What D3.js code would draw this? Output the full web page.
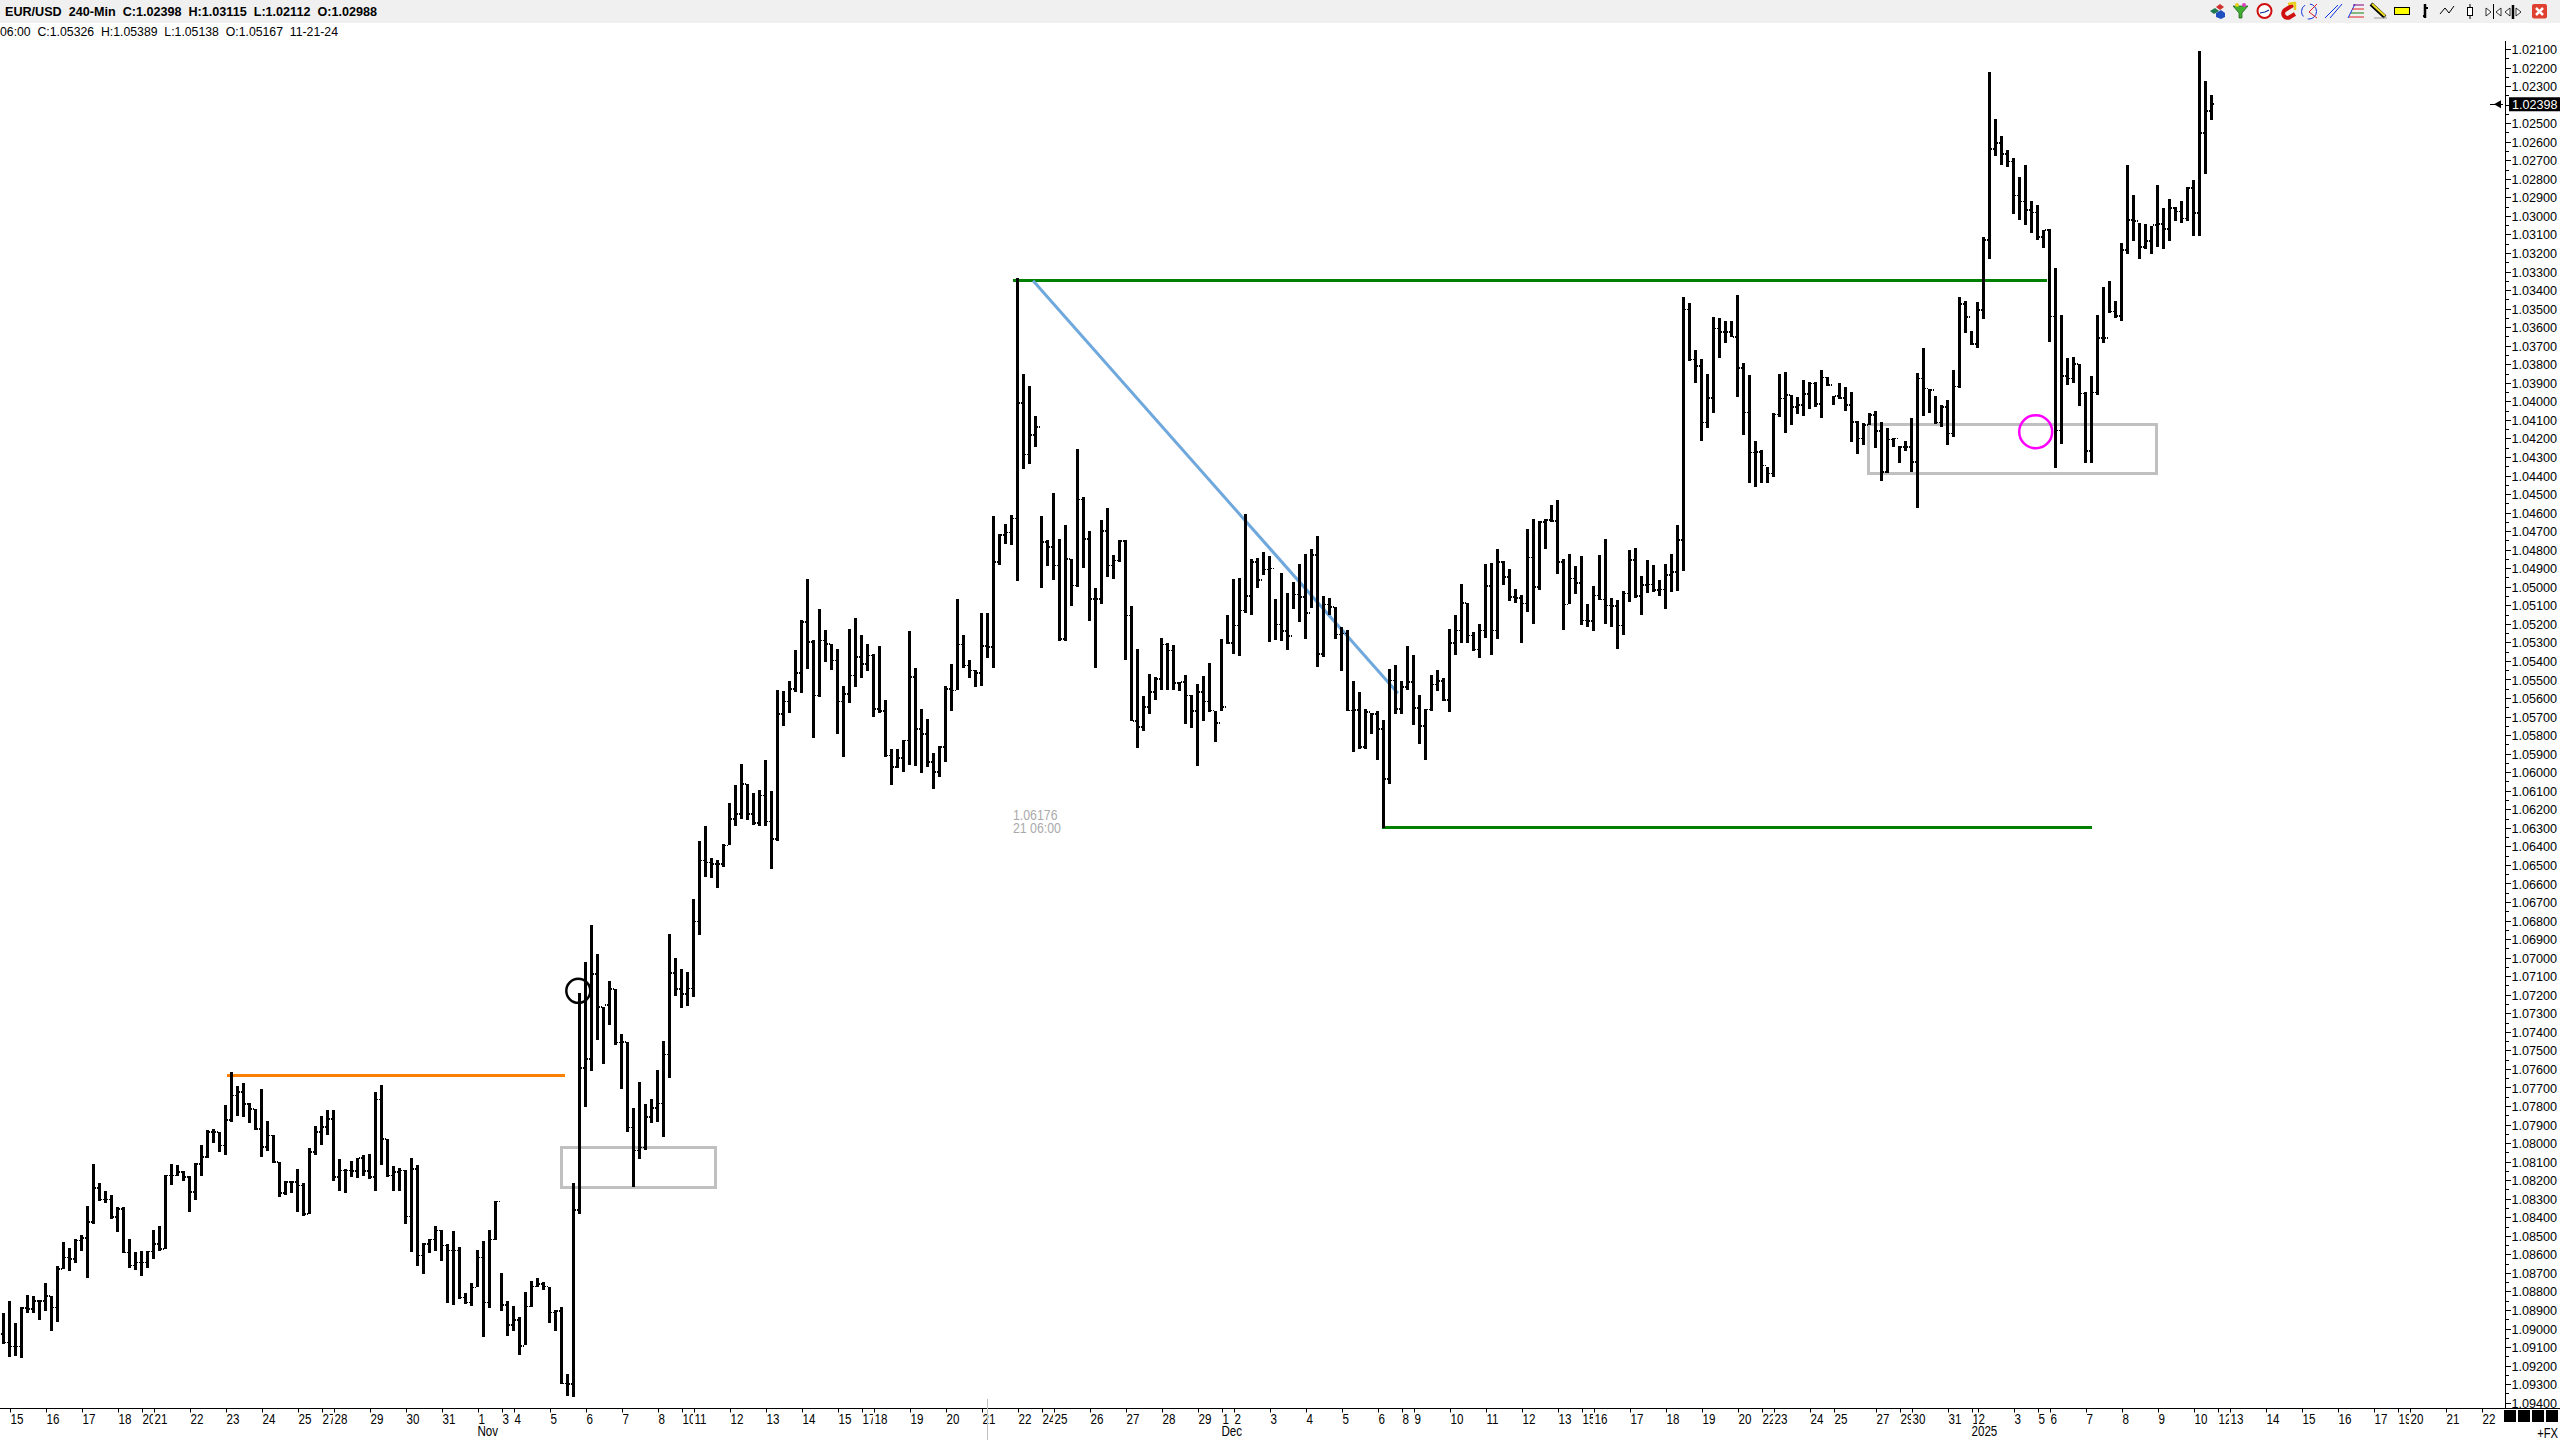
<!DOCTYPE html>
<html>
<head>
<meta charset="utf-8">
<script src="https://cdn.jsdelivr.net/npm/d3@7"></script>
<style>
    body { margin: 0; background: #fff; }
    svg { display: block; }
    text { font-family: "Liberation Sans", Arial, sans-serif; fill: #000; }
    .tick line, .domain { stroke: #000; shape-rendering: crispEdges; }
</style>
</head>
<body>
<svg id="chart" width="2560" height="1440"></svg>
<script>
// all prices in points (1e-5), price scale runs downwards on this chart
const lows = [
108918,108850,108972,108882,108818,108825,108845,108753,108823,108665,
108531,108566,108517,108495,108337,108112,108215,108256,108279,108346,
108342,108517,108589,108580,108580,108467,108445,108170,108112,108116,
108152,108180,108107,108013,107927,107923,107941,107792,107615,107694,
107675,107783,107815,107707,107883,107955,108101,108202,108202,108139,
108215,108026,107910,107856,107824,107819,108085,108139,108099,108080,
108062,108058,107723,107689,107977,108126,108135,108143,108080,108117,
108540,108517,108447,108468,108544,108472,108562,108809,108755,108576,
108526,108468,108314,108701,108850,108877,108936,108801,108746,108728,
108751,108774,108900,108882,109246,108215,107188,107024,106826,106982,
107266,107128,107167,107414,107457,107812,107670,107789,107763,107607,
107448,106870,107000,107061,107080,106686,106369,106288,106463,106473,
106387,106166,106067,105955,106063,106112,106095,105932,106099,105559,
105564,105510,105343,105177,104960,105285,105122,105235,105307,105338,
105537,105230,105167,105262,105307,105361,105321,105609,105874,105874,
105824,105240,105437,105658,105712,105896,105861,105534,105419,105068,
105258,105397,105447,105140,105140,104619,104718,104663,104614,103337,
103850,103918,104080,104617,104746,104493,104741,104665,104849,104255,
104516,104701,105007,104638,104574,104831,104746,104750,105105,105334,
105591,105473,105487,105275,105302,105316,105514,105478,105586,105523,
105483,105411,105671,105280,105150,104960,104951,104605,104848,104843,
104810,104835,105064,104924,105032,104974,104879,104825,104794,104724,
105050,105059,105109,105217,105231,105510,105570,105658,105680,105672,
105716,105442,105424,105509,105321,105366,105582,105658,105474,105451,
105491,105230,105154,104983,105086,105244,105203,104879,104870,104799,
104861,104902,105010,105042,104691,104637,104645,104632,104560,104533,
104848,104821,104889,104835,105095,104997,104830,104745,105059,105073,
105024,104803,104789,104943,104853,104884,104961,104875,104825,104668,
103440,103472,103723,103772,103855,103547,103553,103567,103567,103427,
103795,103860,104216,104263,104353,104065,103855,103842,103968,103979,
103885,103894,103894,103831,103867,103970,103903,103925,103952,104107,
104119,104065,104051,104114,104146,104196,104240,104213,104092,103849,
103715,103936,103970,104020,103993,103831,103440,103457,103619,103463,
103114,102224,102477,102569,102644,102689,102790,102725,102919,102941,
103076,103070,103281,103534,103766,103761,103799,103950,103863,103534,
103383,103351,103459,103146,102725,102887,103038,103043,103054,102833,
102957,102909,102952,102919,102844,102806,102110,102272,102348];

const highs = [
109084,109156,109147,109160,108918,108918,108953,108904,109012,108967,
108681,108688,108648,108580,108729,108436,108310,108323,108409,108481,
108593,108675,108684,108715,108675,108625,108584,108573,108224,108179,
108206,108373,108305,108179,108080,108000,108049,108062,107887,107856,
107860,107892,107932,108076,108044,108108,108292,108281,108270,108369,
108391,108384,108062,108013,107954,108206,108256,108270,108184,108189,
108175,108193,108260,108116,108184,108256,108256,108436,108589,108661,
108706,108594,108580,108634,108864,108873,108841,108868,108879,108778,
109048,108891,108522,108908,109043,109016,109142,109091,108886,108778,
108792,108972,109012,109300,109363,109368,108380,107804,107613,107446,
107572,107362,107470,107708,107940,108235,108086,108036,107893,107888,
107968,107650,107206,107271,107260,107214,106876,106567,106572,106626,
106513,106393,106292,106252,106257,106282,106288,106288,106522,106373,
105753,105681,105568,105573,105442,105816,105595,105406,105451,105793,
105919,105627,105541,105492,105455,105703,105680,105919,106067,105978,
106000,105959,105968,106005,105973,106090,106027,105946,105671,105559,
105438,105492,105541,105536,105384,105438,104880,104767,104776,104970,
104363,104336,104246,105007,104890,104966,105294,105294,105101,105002,
104899,105186,105438,105092,104948,104957,104867,105394,105726,105871,
105779,105685,105608,105559,105559,105559,105563,105739,105762,105964,
105725,105676,105838,105672,105311,105365,105374,105141,105150,105006,
104934,105298,105285,105293,105339,105118,105190,105280,105113,105433,
105379,105154,105280,105455,105671,105892,105874,105874,105793,105933,
106301,106063,105685,105685,105555,105744,105847,105933,105671,105563,
105617,105676,105366,105303,105303,105347,105384,105275,105366,105284,
104992,105077,105087,105303,105136,105203,105015,104798,104650,104933,
105235,105095,105041,105208,105217,105239,105069,105203,105217,105338,
105262,105082,105059,105154,105033,105028,105051,105122,105028,105024,
104915,103781,103900,104213,104146,104062,103765,103684,103652,103975,
104180,104439,104464,104443,104443,104410,104087,104169,104128,104071,
104078,104044,104029,104088,103918,104020,103990,104051,104218,104286,
104236,104128,104250,104428,104389,104245,104331,104267,104380,104574,
104078,104065,104123,104137,104236,104191,103928,103634,103698,103715,
103558,103230,102675,102725,102734,102988,103022,103049,103092,103130,
103173,103678,104358,104230,103912,103899,104023,104331,104331,103964,
103684,103522,103549,103567,103205,103135,103232,103178,103205,103168,
103178,103135,103027,103038,103027,103108,103108,102774,102483];

const closes = [
109075,109097,109097,108890,108895,108850,108850,108823,108886,108679,
108616,108625,108526,108512,108427,108243,108305,108305,108400,108355,
108589,108661,108643,108643,108584,108544,108571,108175,108175,108157,
108184,108265,108112,108076,107941,107941,108013,107874,107743,107725,
107788,107815,107923,108022,107959,108103,108270,108211,108211,108229,
108382,108049,107941,107914,107869,108184,108148,108148,108152,108081,
108152,108184,107766,107977,108175,108157,108148,108396,108139,108607,
108544,108521,108472,108553,108580,108580,108832,108859,108778,108616,
108859,108521,108315,108873,108981,108954,109093,108882,108773,108760,
108774,108913,108904,109296,109300,108361,107594,107548,107089,107266,
107256,107169,107457,107455,107916,108040,108023,107860,107810,107786,
107522,107084,107169,107195,107167,106805,106477,106486,106495,106495,
106396,106252,106225,106063,106225,106275,106126,106265,106360,105685,
105618,105550,105465,105190,105298,105586,105289,105307,105397,105618,
105577,105478,105379,105415,105370,105658,105671,105910,105973,105924,
105829,105487,105766,105793,105946,105999,105865,105550,105559,105311,
105424,105451,105464,105320,105325,104866,104722,104708,104632,104008,
104287,104183,104138,104759,104786,104885,105281,104849,104993,104530,
104741,105065,105065,104700,104885,104858,104754,105155,105725,105757,
105649,105568,105496,105311,105343,105519,105514,105586,105671,105568,
105618,105667,105735,105649,105302,105208,105127,105050,104866,104965,
104907,104902,105203,105239,105267,105041,105055,105141,104830,105361,
105095,105109,105257,105253,105667,105663,105865,105676,105685,105766,
106036,105505,105658,105541,105514,105654,105752,105662,105527,105509,
105609,105302,105235,105086,105262,105339,105235,104997,105235,104866,
104947,105055,105059,105091,104843,105001,104650,104641,104645,104866,
105095,104956,104979,105181,105185,105046,105068,105100,105104,105208,
105037,104857,105051,104992,104987,105019,105015,104938,104920,104749,
103504,103774,103810,104115,103981,103607,103625,103625,103652,103819,
104060,104277,104272,104347,104389,104071,103984,103966,104029,104020,
103961,103903,104015,103871,103912,103972,103981,104020,104110,104200,
104128,104074,104159,104380,104205,104200,104245,104245,104326,103876,
103930,103939,104114,104029,104173,103921,103475,103544,103691,103508,
103130,102639,102608,102666,102707,102891,102923,102968,102981,103115,
103076,103543,104158,103863,103876,103800,103957,104268,103953,103657,
103657,103516,103540,103184,103022,103027,103169,103135,103049,103045,
103070,102959,102977,103013,102851,102986,102554,102434,102398];

const opens = [
109030,109075,109097,109097,108890,108895,108850,108850,108823,108886,
108679,108616,108625,108526,108512,108427,108243,108305,108305,108400,
108355,108589,108661,108643,108643,108584,108544,108571,108175,108175,
108157,108184,108265,108112,108076,107941,107941,108013,107874,107743,
107725,107788,107815,107923,108022,107959,108103,108270,108211,108211,
108229,108382,108049,107941,107914,107869,108184,108148,108148,108152,
108081,108152,108184,107766,107977,108175,108157,108148,108396,108139,
108607,108544,108521,108472,108553,108580,108580,108832,108859,108778,
108616,108859,108521,108315,108873,108981,108954,109093,108882,108773,
108760,108774,108913,108904,109296,109300,108361,107594,107548,107089,
107266,107256,107169,107457,107455,107916,108040,108023,107860,107810,
107786,107522,107084,107169,107195,107167,106805,106477,106486,106495,
106495,106396,106252,106225,106063,106225,106275,106126,106265,106360,
105685,105618,105550,105465,105190,105298,105586,105289,105307,105397,
105618,105577,105478,105379,105415,105370,105658,105671,105910,105973,
105924,105829,105487,105766,105793,105946,105999,105865,105550,105559,
105311,105424,105451,105464,105320,105325,104866,104722,104708,104632,
104008,104287,104183,104138,104759,104786,104885,105281,104849,104993,
104530,104741,105065,105065,104700,104885,104858,104754,105155,105725,
105757,105649,105568,105496,105311,105343,105519,105514,105586,105671,
105568,105618,105667,105735,105649,105302,105208,105127,105050,104866,
104965,104907,104902,105203,105239,105267,105041,105055,105141,104830,
105361,105095,105109,105257,105253,105667,105663,105865,105676,105685,
105766,106036,105505,105658,105541,105514,105654,105752,105662,105527,
105509,105609,105302,105235,105086,105262,105339,105235,104997,105235,
104866,104947,105055,105059,105091,104843,105001,104650,104641,104645,
104866,105095,104956,104979,105181,105185,105046,105068,105100,105104,
105208,105037,104857,105051,104992,104987,105019,105015,104938,104920,
104749,103504,103774,103810,104115,103981,103607,103625,103625,103652,
103819,104060,104277,104272,104347,104389,104071,103984,103966,104029,
104020,103961,103903,104015,103871,103912,103972,103981,104020,104110,
104200,104128,104074,104159,104380,104205,104200,104245,104245,104326,
103876,103930,103939,104114,104029,104173,103921,103475,103544,103691,
103508,103130,102639,102608,102666,102707,102891,102923,102968,102981,
103115,103076,103543,104158,103863,103876,103800,103957,104268,103953,
103657,103657,103516,103540,103184,103022,103027,103169,103135,103049,
103045,103070,102959,102977,103013,102851,102986,102554,102434];

// date axis: bar index of each tick and what it says
const dayTicks = [1,7,13,19,23,25,31,37,43,49,53,55,61,67,73,79,83,85,91,97,103,109,113,115,121,127,133,139,143,145,151,157,163,169,173,175,181,187,193,199,203,205,211,217,223,229,233,235,241,247,253,259,263,265,271,277,283,289,293,295,301,305,312,316,318,324,328,329,335,339,341,347,353,359,365,369,371,377,383,389,395,399,401,407,413];
const dayLabels = ["15","16","17","18","20","21","22","23","24","25","27","28","29","30","31","1","3","4","5","6","7","8","10","11","12","13","14","15","17","18","19","20","21","22","24","25","26","27","28","29","1","2","3","4","5","6","8","9","10","11","12","13","15","16","17","18","19","20","22","23","24","25","27","29","30","31","1","2","3","5","6","7","8","9","10","12","13","14","15","16","17","19","20","21","22"];
const monthTicks = [79, 203, 328];
const monthLabels = ["Nov", "Dec", "2025"];

const lastPrice = 102398;
const priceMin = 102100, priceMax = 109400;

// drawings on the chart, in bar index / points
const levelLines = [
    { from: 37.3, to: 93.5, price: 107634, color: "#ff8000" },
    { from: 168.2, to: 340.6, price: 103349, color: "#008000" },
    { from: 229.75, to: 348.1, price: 106299, color: "#008000" }
];
const trendLine = { from: 171.6, to: 232.4, p0: 103350, p1: 105574 };
const zones = [
    { from: 93.0, to: 118.6, p0: 108023, p1: 108238 },
    { from: 310.9, to: 358.75, p0: 104125, p1: 104387 }
];
const rings = [
    { at: 95.8, price: 107179, r: 12, color: "#000" },
    { at: 338.7, price: 104164, r: 16.5, color: "#ff00ff" }
];

const narrowX = 0.8; // labels on this chart are squeezed sideways

const svg = d3.select("#chart");
const x = d3.scaleLinear().domain([0, 368]).range([3.5, 2211.5]);
const y = d3.scaleLinear().domain([priceMin, priceMax]).range([49, 1402.7]);
const bars = d3.range(lows.length);

// top strip
svg.append("rect").attr("width", 2560).attr("height", 23).attr("fill", "#f0f0f0");
svg.append("text").attr("x", 5).attr("y", 16)
    .attr("font-size", 13).attr("font-weight", 700)
    .attr("textLength", 372).attr("lengthAdjust", "spacingAndGlyphs")
    .attr("xml:space", "preserve")
    .text("EUR/USD  240-Min  C:1.02398  H:1.03115  L:1.02112  O:1.02988");
svg.append("text").attr("x", 0).attr("y", 36)
    .attr("font-size", 13)
    .attr("textLength", 338).attr("lengthAdjust", "spacingAndGlyphs")
    .attr("xml:space", "preserve")
    .text("06:00  C:1.05326  H:1.05389  L:1.05138  O:1.05167  11-21-24");

// zones and lines go under the bars
const drawings = svg.append("g");
drawings.selectAll("rect").data(zones).join("rect")
    .attr("x", d => x(d.from)).attr("width", d => x(d.to) - x(d.from))
    .attr("y", d => y(d.p0)).attr("height", d => y(d.p1) - y(d.p0))
    .attr("fill", "none").attr("stroke", "#c0c0c0").attr("stroke-width", 3)
    .attr("shape-rendering", "crispEdges");
drawings.selectAll("line.level").data(levelLines).join("line")
    .attr("class", "level")
    .attr("x1", d => x(d.from)).attr("x2", d => x(d.to))
    .attr("y1", d => y(d.price)).attr("y2", d => y(d.price))
    .attr("stroke", d => d.color).attr("stroke-width", 3)
    .attr("shape-rendering", "crispEdges");
drawings.append("line")
    .attr("x1", x(trendLine.from)).attr("x2", x(trendLine.to))
    .attr("y1", y(trendLine.p0)).attr("y2", y(trendLine.p1))
    .attr("stroke", "#6fa8dc").attr("stroke-width", 3);
drawings.selectAll("circle").data(rings).join("circle")
    .attr("cx", d => x(d.at)).attr("cy", d => y(d.price)).attr("r", d => d.r)
    .attr("fill", "none").attr("stroke", d => d.color).attr("stroke-width", 2.5);

// price bars
const barG = svg.append("g").attr("shape-rendering", "crispEdges");
barG.selectAll("rect.hl").data(bars).join("rect")
    .attr("class", "hl").attr("fill", "#000")
    .attr("x", i => x(i) - 1.5).attr("width", 3)
    .attr("y", i => y(lows[i])).attr("height", i => y(highs[i]) - y(lows[i]));
// open and close ticks come out dotted on the original
barG.selectAll("line.open").data(bars).join("line")
    .attr("class", "open").attr("stroke", "#000").attr("stroke-width", 1.6)
    .attr("stroke-dasharray", "1 1")
    .attr("x1", i => x(i) - 4.5).attr("x2", i => x(i) - 1.5)
    .attr("y1", i => y(opens[i])).attr("y2", i => y(opens[i]));
barG.selectAll("line.close").data(bars).join("line")
    .attr("class", "close").attr("stroke", "#000").attr("stroke-width", 1.6)
    .attr("x1", i => x(i) + 1.5).attr("x2", i => x(i) + 2.5)
    .attr("y1", i => y(closes[i])).attr("y2", i => y(closes[i]));

// price axis
const priceTicks = d3.range(priceMin, priceMax + 1, 100);
const minorTicks = d3.range(priceMin + 50, priceMax, 100);
const yAxisG = svg.append("g").attr("transform", "translate(2505.5,0)")
    .call(d3.axisRight(y).tickValues(priceTicks).tickSize(5).tickPadding(1)
        .tickFormat(p => (p / 1e5).toFixed(5)));
yAxisG.select(".domain").remove();
yAxisG.selectAll("text").attr("font-size", 12.6).attr("dy", "0.36em");
svg.append("g").attr("transform", "translate(2505.5,0)")
    .call(d3.axisRight(y).tickValues(minorTicks).tickSize(3).tickFormat(""))
    .select(".domain").remove();
svg.append("line").attr("x1", 2505.5).attr("x2", 2505.5).attr("y1", 41).attr("y2", 1408)
    .attr("stroke", "#000").attr("shape-rendering", "crispEdges");

// last price box and arrow
svg.append("rect").attr("x", 2509).attr("y", y(lastPrice) - 7).attr("width", 51).attr("height", 14).attr("fill", "#000");
svg.append("text").attr("x", 2512).attr("y", y(lastPrice)).attr("dy", "0.36em")
    .attr("font-size", 12.6).style("fill", "#fff").text((lastPrice / 1e5).toFixed(5));
svg.append("line").attr("x1", 2490).attr("x2", 2503).attr("y1", y(lastPrice)).attr("y2", y(lastPrice))
    .attr("stroke", "#000").attr("shape-rendering", "crispEdges");
svg.append("path").attr("d", `M2494,${y(lastPrice)}l7,-4v8z`).attr("fill", "#000");

// date axis, each label paints white behind itself so it cuts off the one before
const xAxisG = svg.append("g").attr("transform", "translate(0,1408.5)")
    .call(d3.axisBottom(x).tickValues(dayTicks).tickSize(4)
        .tickFormat((d, i) => dayLabels[i]));
xAxisG.select(".domain").remove();
xAxisG.selectAll(".tick text")
    .attr("font-size", 14.5)
    .attr("text-anchor", "start")
    .attr("x", 0).attr("y", 0).attr("dy", 0)
    .attr("transform", `translate(0.5,15) scale(${narrowX},1)`);
xAxisG.selectAll(".tick").insert("rect", "text")
    .attr("x", -1).attr("y", 4).attr("height", 13).attr("fill", "#fff")
    .attr("width", function() { return this.parentNode.querySelector("text").getComputedTextLength() * narrowX + 2; });
svg.append("line").attr("x1", 0).attr("x2", 2560).attr("y1", 1408.5).attr("y2", 1408.5)
    .attr("stroke", "#000").attr("shape-rendering", "crispEdges");
svg.selectAll("text.month").data(monthTicks).join("text")
    .attr("class", "month")
    .attr("transform", d => `translate(${x(d)},1436) scale(${narrowX},1)`).attr("font-size", 14.5)
    .text((d, i) => monthLabels[i]);

// cursor mark under the axis and its read-out
svg.append("line").attr("x1", 987.5).attr("x2", 987.5).attr("y1", 1399).attr("y2", 1440)
    .attr("stroke", "#c0c0c0").attr("shape-rendering", "crispEdges");
svg.append("text").attr("transform", "translate(1013,820) scale(0.88,1)").attr("font-size", 14)
    .style("fill", "#aaa").text("1.06176");
svg.append("text").attr("transform", "translate(1013,833) scale(0.88,1)").attr("font-size", 14)
    .style("fill", "#aaa").text("21 06:00");

// corner bits
svg.selectAll("rect.corner").data([2504, 2518, 2532, 2546]).join("rect")
    .attr("class", "corner").attr("x", d => d).attr("y", 1410).attr("width", 12).attr("height", 12).attr("fill", "#000");
svg.append("text").attr("transform", `translate(2558,1438) scale(${narrowX},1)`).attr("text-anchor", "end")
    .attr("font-size", 14).text("+FX");

// toolbar icons
const bar = svg.append("g").attr("stroke-linejoin", "round");
const put = (kind, attrs) => {
    const el = bar.append(kind);
    Object.entries(attrs).forEach(([k, v]) => el.attr(k, v));
    return el;
};
// cubes
put("path", { d: "M2210,11l5,-3l4,3l-5,3z", fill: "#1f7a4d" });
put("path", { d: "M2216,7l4,-3l4,3l-4,3z", fill: "#d03030" });
put("path", { d: "M2216,13l5,-3l4,3v4l-4,2l-5,-2z", fill: "#2050c0" });
// funnel
put("path", { d: "M2233,6h15l-6,7v5h-3v-5z", fill: "#40b030", stroke: "#205018", "stroke-width": 0.7 });
put("circle", { cx: 2237, cy: 5, r: 2, fill: "#e8d020" });
put("circle", { cx: 2244, cy: 5, r: 2, fill: "#e040c0" });
// clock
put("circle", { cx: 2264.5, cy: 11, r: 7, fill: "#fff", stroke: "#d01010", "stroke-width": 2 });
put("path", { d: "M2260,13l5,-1l4,-2", fill: "none", stroke: "#003090", "stroke-width": 1.2 });
// magnet
put("path", { d: "M2293,5l-8,5a4,4 0 0 0 5,7l5,-3", fill: "none", stroke: "#d01010", "stroke-width": 4 });
put("path", { d: "M2288,4l7,-1l0,7", fill: "none", stroke: "#e8d020", "stroke-width": 2.5 });
// circle with rays
put("circle", { cx: 2309, cy: 11.5, r: 7.5, fill: "none", stroke: "#1030e0", "stroke-width": 1, "stroke-dasharray": "13 5" });
put("path", { d: "M2317,4l-8,8l8,6", fill: "none", stroke: "#e02020", "stroke-width": 1 });
// parallel lines
put("path", { d: "M2325,18l13,-13M2330,18l12,-14", fill: "none", stroke: "#1030e0", "stroke-width": 1 });
// fib fan
put("path", { d: "M2348,18l7,-14", fill: "none", stroke: "#1030e0", "stroke-width": 1 });
put("path", { d: "M2353,5h11", stroke: "#800080", "stroke-width": 1 });
put("path", { d: "M2352,9h12", stroke: "#e02020", "stroke-width": 1 });
put("path", { d: "M2351,13h13", stroke: "#108010", "stroke-width": 1 });
put("path", { d: "M2349,17h15", stroke: "#e02020", "stroke-width": 1 });
// pencil
put("path", { d: "M2371,4l14,13", stroke: "#000", "stroke-width": 4 });
put("path", { d: "M2372,4l13,12", stroke: "#f0e020", "stroke-width": 2 });
put("path", { d: "M2374,18h13", stroke: "#999", "stroke-width": 1 });
// yellow rectangle
put("rect", { x: 2394.5, y: 7.5, width: 15, height: 7, fill: "#ffff00", stroke: "#000", "shape-rendering": "crispEdges" });
// bar, line, candle
put("path", { d: "M2425,4v14", stroke: "#000", "stroke-width": 2.5 });
put("path", { d: "M2423,16h2M2426,8h2", stroke: "#000", "stroke-width": 2 });
put("path", { d: "M2440,14l5,-6l4,5l5,-7", fill: "none", stroke: "#000", "stroke-width": 1 });
put("rect", { x: 2467.5, y: 7.5, width: 5, height: 8, fill: "#fff", stroke: "#000", "shape-rendering": "crispEdges" });
put("path", { d: "M2470,4v3M2470,16v3", stroke: "#000", "stroke-width": 1 });
// step arrows
put("path", { d: "M2486,8v8l5,-4z", fill: "#fff", stroke: "#000", "stroke-width": 0.8 });
put("path", { d: "M2501,8v8l-5,-4z", fill: "#fff", stroke: "#000", "stroke-width": 0.8 });
put("path", { d: "M2493.5,4v15", stroke: "#000", "stroke-width": 1 });
put("path", { d: "M2510,8v8l-5,-4z", fill: "#fff", stroke: "#000", "stroke-width": 0.8 });
put("path", { d: "M2513,5v14", stroke: "#000", "stroke-width": 2.5 });
put("path", { d: "M2516,8v8l5,-4z", fill: "#fff", stroke: "#000", "stroke-width": 0.8 });
// close button
put("rect", { x: 2532, y: 4, width: 15, height: 14.5, rx: 2, fill: "#e04030" });
put("path", { d: "M2536,8l7,7M2543,8l-7,7", stroke: "#fff", "stroke-width": 2.5 });
</script>
</body>
</html>
